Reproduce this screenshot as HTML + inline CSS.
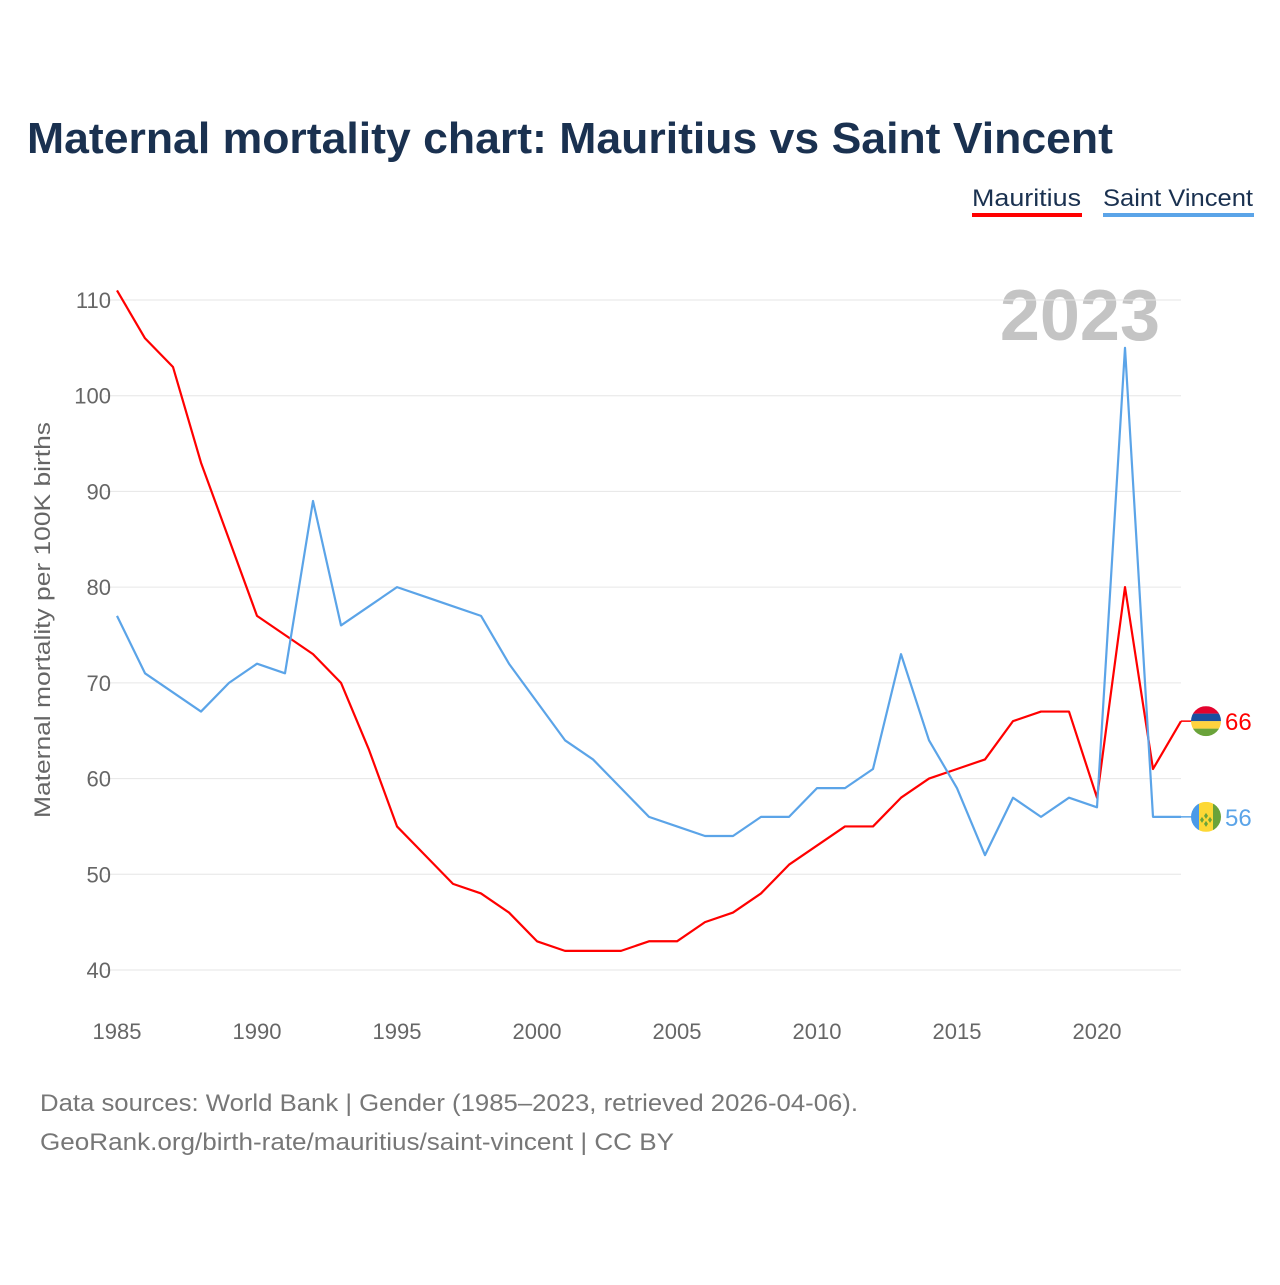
<!DOCTYPE html>
<html><head><meta charset="utf-8"><style>
body{margin:0;background:#fff;font-family:"Liberation Sans",sans-serif}
</style></head><body>
<svg id="chart" width="1280" height="1280" viewBox="0 0 1280 1280">
<text x="27" y="153" font-size="44" font-weight="bold" fill="#1a3150" textLength="1086" lengthAdjust="spacingAndGlyphs">Maternal mortality chart: Mauritius vs Saint Vincent</text>
<g><text x="972" y="206" font-size="24" fill="#1a3150" textLength="109" lengthAdjust="spacingAndGlyphs">Mauritius</text><rect x="972" y="213" width="110" height="4" fill="#ff0000"/></g>
<g><text x="1103" y="206" font-size="24" fill="#1a3150" textLength="150" lengthAdjust="spacingAndGlyphs">Saint Vincent</text><rect x="1103" y="213" width="151" height="4" fill="#5ba4e8"/></g>
<text x="1160" y="340" font-size="72" font-weight="bold" fill="#c4c4c4" text-anchor="end">2023</text>
<g id="grid"></g><g id="xt"></g><g id="lines"></g>
<text transform="translate(50,620) rotate(-90)" font-size="22" fill="#666" text-anchor="middle" textLength="396" lengthAdjust="spacingAndGlyphs">Maternal mortality per 100K births</text>
<text x="40" y="1111" font-size="24" fill="#777" textLength="818" lengthAdjust="spacingAndGlyphs">Data sources: World Bank | Gender (1985–2023, retrieved 2026-04-06).</text>
<text x="40" y="1150" font-size="24" fill="#777" textLength="634" lengthAdjust="spacingAndGlyphs">GeoRank.org/birth-rate/mauritius/saint-vincent | CC BY</text>
</svg>
<script>
const years=[];for(let y=1985;y<=2023;y++)years.push(y);
const mauritius=[111,106,103,93,85,77,75,73,70,63,55,52,49,48,46,43,42,42,42,43,43,45,46,48,51,53,55,55,58,60,61,62,66,67,67,58,80,61,66];
const saintVincent=[77,71,69,67,70,72,71,89,76,78,80,79,78,77,72,68,64,62,59,56,55,54,54,56,56,59,59,61,73,64,59,52,58,56,58,57,105,56,56];
const yTicks=[40,50,60,70,80,90,100,110];
const xTicks=[1985,1990,1995,2000,2005,2010,2015,2020];
const X=y=>117+(y-1985)*28, Y=v=>300+(110-v)*(670/70);
const NS="http://www.w3.org/2000/svg";
function mk(t,a,p){const e=document.createElementNS(NS,t);for(const k in a)e.setAttribute(k,a[k]);p.appendChild(e);return e;}
const g=document.getElementById('grid');
yTicks.forEach(v=>{
 const l=mk('line',{x1:105,x2:1181,y1:Y(v),y2:Y(v),stroke:'#e6e6e6','stroke-width':1},g);
 
 
 const t=mk('text',{x:111,y:Y(v)+8,'font-size':22,fill:'#666','text-anchor':'end'},g);t.textContent=v;
 
 
});
const xt=document.getElementById('xt');
xTicks.forEach(v=>{
 const t=mk('text',{x:X(v),y:1039,'font-size':22,fill:'#666','text-anchor':'middle'},xt);t.textContent=v;
 
 
});
const L=document.getElementById('lines');
function series(d,c,name){
 const p=mk('polyline',{points:d.map((v,i)=>X(years[i])+','+Y(v)).join(' '),fill:'none',stroke:c,'stroke-width':2.2,'stroke-linejoin':'round'},L);
 
 
 const lv=d[d.length-1],ly=Y(lv);
 mk('line',{x1:X(2023),x2:1192,y1:ly,y2:ly,stroke:c,'stroke-width':1.5},L);
 const t=mk('text',{x:1225,y:ly+9,'font-size':24,fill:c},L);t.textContent=lv;
 
 
 return ly;
}
const my=series(mauritius,'#ff0000','mauritius');
const sy=series(saintVincent,'#5ba4e8','saint-vincent');
const f1=mk('g',{},L);


mk('clipPath',{id:'c1'},f1).appendChild(document.createElementNS(NS,'circle'));
const c1=f1.querySelector('circle');c1.setAttribute('cx',1206);c1.setAttribute('cy',my);c1.setAttribute('r',15);
['#e4032e','#1a4fa0','#ffd23f','#6aa33a'].forEach((c,i)=>mk('rect',{x:1191,y:my-15+i*7.5,width:30,height:7.6,fill:c,'clip-path':'url(#c1)'},f1));
const f2=mk('g',{},L);


mk('clipPath',{id:'c2'},f2).appendChild(document.createElementNS(NS,'circle'));
const c2=f2.querySelector('circle');c2.setAttribute('cx',1206);c2.setAttribute('cy',sy);c2.setAttribute('r',15);
[['#4b9ae8',0,8],['#fdd835',8,14],['#6aa33a',22,8]].forEach(a=>mk('rect',{x:1191+a[1],y:sy-15,width:a[2],height:30,fill:a[0],'clip-path':'url(#c2)'},f2));
mk('path',{d:`M1206 ${sy-4}l2 3-2 3-2-3zM1202 ${sy}l2 3-2 3-2-3zM1210 ${sy}l2 3-2 3-2-3zM1206 ${sy+4}l2 3-2 3-2-3z`,fill:'#6aa33a'},f2);
</script>
</body></html>
